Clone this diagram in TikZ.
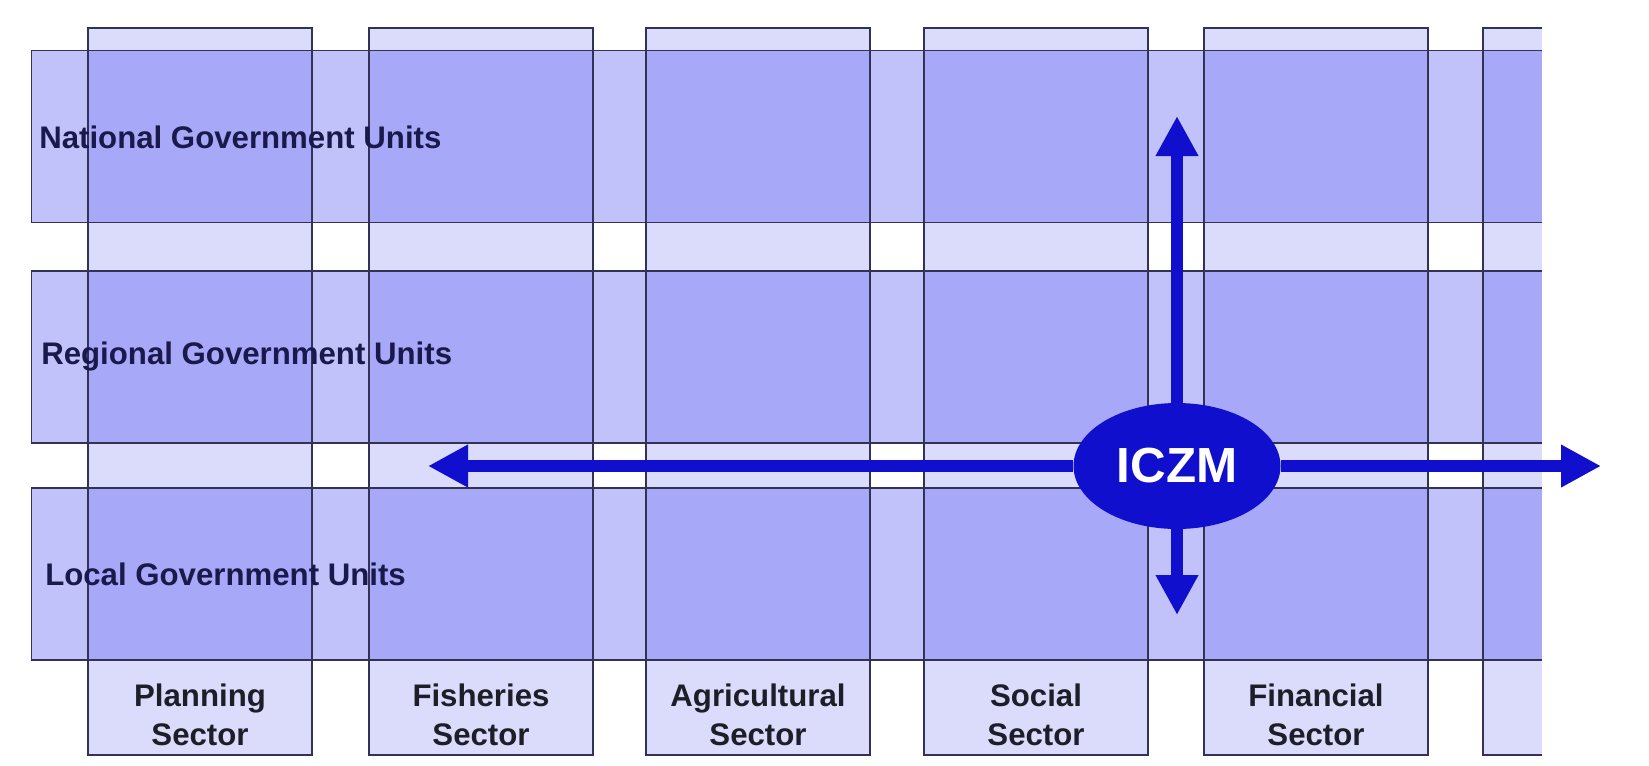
\documentclass[tikz,border=0pt]{standalone}
\usepackage{fontspec}
\setmainfont{Liberation Sans}
\usetikzlibrary{arrows.meta,shapes.geometric}
\definecolor{bandblue}{RGB}{45,45,240}
\definecolor{edgecol}{RGB}{50,50,85}
\definecolor{rowtext}{RGB}{25,25,75}
\definecolor{sectext}{RGB}{30,30,40}
\definecolor{iczmblue}{RGB}{15,15,205}
\tikzset{
  colbox/.style={rectangle,inner sep=0,outer sep=0,anchor=north west,fill=bandblue,fill opacity=0.17,draw=none,minimum height={727*0.75pt},minimum width={224*0.75pt}},
  rowbox/.style={rectangle,inner sep=0,outer sep=0,anchor=north west,fill=bandblue,fill opacity=0.29,draw=none,minimum height={172*0.75pt},minimum width={1528*0.75pt}},
  edgeline/.style={draw=edgecol,line width=1.3pt},
  rowlabel/.style={anchor=west,inner sep=0,text=rowtext,font=\bfseries\fontsize{23.4}{28}\selectfont},
  seclabel/.style={align=center,inner sep=0,text=sectext,font=\bfseries\fontsize{23.4}{29}\selectfont},
  iczmnode/.style={ellipse,fill=iczmblue,inner sep=0,minimum width={207*0.75pt},minimum height={126*0.75pt},text=white,font=\bfseries\fontsize{37}{40}\selectfont},
  bigarrow/.style={draw=iczmblue,line width=8.5pt,-{Triangle[length=30pt,width=30pt]}}
}
\begin{document}
\begin{tikzpicture}[x=0.75pt,y=-0.75pt]
\useasboundingbox (0,0) rectangle (1649,765);
\fill[white] (0,0) rectangle (1649,765);
\begin{scope}
\clip (0,0) rectangle (1541.8,765);
\foreach \n/\x in {1/88,2/369,3/646,4/924,5/1204,6/1483}
  \node[colbox] (c\n) at (\x,28) {};
\foreach \n/\y in {1/50.5,2/271,3/488}
  \node[rowbox] (r\n) at (31.6,\y) {};
\foreach \n in {1,...,6}
  \draw[edgeline] (c\n.north west) rectangle (c\n.south east);
\foreach \n in {1,2,3}
  \draw[edgeline] (r\n.north west) rectangle (r\n.south east);
\end{scope}
% row labels
\node[rowlabel] (l1) at (39,137) {National Government Units};
\node[rowlabel] (l2) at (41,356) {Regional Government Units};
\node[rowlabel] (l3) at (45,574) {Local Government Units};
% sector labels
\node[seclabel] (s1) at ([yshift=30pt]c1.south) {Planning\\Sector};
\node[seclabel] (s2) at ([yshift=30pt]c2.south) {Fisheries\\Sector};
\node[seclabel] (s3) at ([yshift=30pt]c3.south) {Agricultural\\Sector};
\node[seclabel] (s4) at ([yshift=30pt]c4.south) {Social\\Sector};
\node[seclabel] (s5) at ([yshift=30pt]c5.south) {Financial\\Sector};
% ICZM
\node[iczmnode] (iczm) at (1177,466) {ICZM};
\coordinate (tipL) at (428,466);
\coordinate (tipR) at (1601,466);
\coordinate (tipU) at (1177,116);
\coordinate (tipD) at (1177,615);
\draw[bigarrow] (iczm) -- (tipL);
\draw[bigarrow] (iczm) -- (tipR);
\draw[bigarrow] (iczm) -- (tipU);
\draw[bigarrow] (iczm) -- (tipD);
\end{tikzpicture}
\end{document}
